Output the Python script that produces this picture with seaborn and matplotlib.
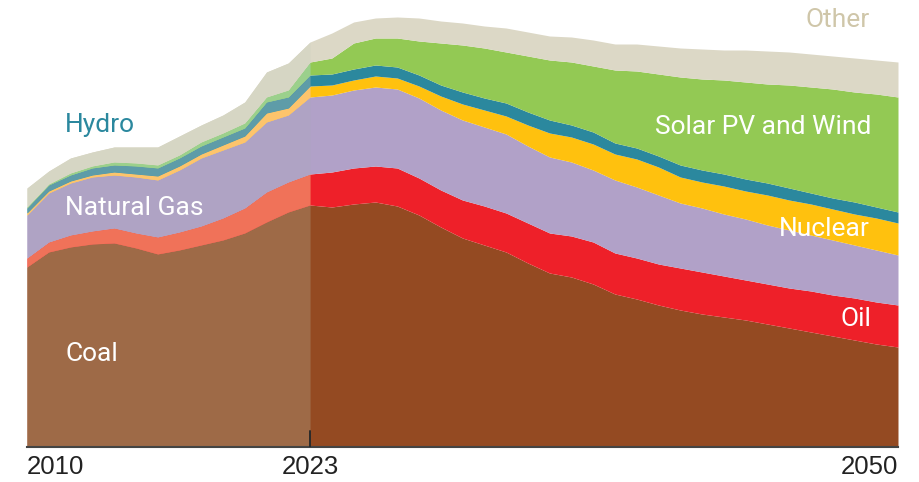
import numpy as np
import pandas as pd
import seaborn as sns
import matplotlib
matplotlib.use("Agg")
import matplotlib.pyplot as plt

# energy mix (arbitrary units, stacked bottom -> top)
years = list(range(2010, 2051))
coal = [180, 195, 200, 203, 204, 199, 193, 197, 202, 207, 214, 225, 235, 242,
        240, 243, 245, 241, 232, 220, 209, 202, 195, 184, 174, 170, 163, 153,
        148, 142, 137, 133, 130, 127, 123, 119, 115, 111, 107, 103, 100]
oil = [9, 10, 12, 13, 15, 15, 17, 18, 19, 22, 25, 30, 30, 31,
       35, 36, 36, 38, 37, 37, 38, 39, 39, 40, 40, 41, 42, 41,
       41, 41, 42, 42, 41, 40, 40, 40, 41, 41, 42, 42, 42]
gas = [43, 49, 52, 54, 53, 56, 57, 62, 68, 68, 66, 70, 67, 77,
       77, 78, 79, 79, 80, 80, 80, 79, 79, 77, 76, 74, 72, 73,
       71, 69, 65, 64, 62, 61, 59, 58, 56, 55, 53, 52, 50]
nuclear = [2, 2, 2, 2, 3, 3, 4, 4, 4, 5, 6, 9, 7, 11,
           10, 10, 11, 11, 12, 14, 16, 17, 18, 21, 24, 25, 26, 26,
           28, 28, 26, 26, 28, 28, 30, 30, 31, 31, 31, 32, 32]
hydro = [5, 6, 6, 7, 7, 8, 8, 8, 8, 8, 8, 11, 11, 11,
         11, 11, 11, 11, 11, 11, 12, 12, 13, 13, 13, 12, 12, 11,
         11, 11, 12, 12, 12, 12, 12, 12, 11, 11, 12, 11, 11]
solar_wind = [1, 1, 2, 2, 3, 3, 3, 3, 4, 4, 5, 5, 7, 13,
              16, 26, 27, 29, 34, 42, 47, 50, 51, 56, 60, 63, 66, 73,
              77, 82, 88, 91, 94, 97, 99, 103, 106, 109, 110, 113, 115]
other = [19, 13, 15, 14, 15, 16, 18, 19, 17, 18, 21, 25, 27, 20,
         25, 21, 20, 21, 23, 22, 22, 22, 24, 24, 24, 25, 26, 26,
         27, 28, 29, 30, 30, 32, 33, 33, 33, 33, 34, 34, 35]

fuels = ["Coal", "Oil", "Natural Gas", "Nuclear", "Hydro", "Solar PV and Wind", "Other"]
split_year = 2023
tick_years = [2010, 2023, 2050]

colors_proj = ["#944A22", "#EE2029", "#B1A1C8", "#FFC10E", "#2B889E", "#93C954", "#DCD8C6"]
colors_hist = ["#9E6A47", "#F07259", "#AFA3C4", "#FDC46C", "#5E9CA8", "#9BD08C", "#D6D6C4"]

df = pd.DataFrame({"year": years, "Coal": coal, "Oil": oil, "Natural Gas": gas,
                   "Nuclear": nuclear, "Hydro": hydro,
                   "Solar PV and Wind": solar_wind, "Other": other})
hist = df[df.year <= split_year]

sns.set_theme(style="white")
plt.rcParams["font.family"] = ["Roboto", "DejaVu Sans"]

fig = plt.figure(figsize=(9.2, 4.82), dpi=100)
ax = fig.add_axes([27 / 920, 35 / 482, 871 / 920, 447 / 482])

# full stack in projection colours, then the historical years drawn over it
ax.stackplot(df.year, *[df[f] for f in fuels], colors=colors_proj, linewidth=0)
ax.stackplot(hist.year, *[hist[f] for f in fuels], colors=colors_hist, linewidth=0)

ax.set_xlim(2010, 2050)
ax.set_ylim(0, 447)
ax.set_yticks([])
ax.set_xticks(tick_years)
ax.set_xticklabels([str(y) for y in tick_years], fontsize=18.5,
                   family=["Liberation Sans", "DejaVu Sans"], color="#222222")
for lab, ha in zip(ax.get_xticklabels(), ["left", "center", "right"]):
    lab.set_horizontalalignment(ha)
ax.tick_params(axis="x", length=0, pad=6)

# small marker at the start of the projection
ax.axvline(split_year, ymin=0, ymax=16 / 447, color="#2a2a2a", lw=1.4, zorder=6)

sns.despine(ax=ax, left=True, top=True, right=True)
ax.spines["bottom"].set_color("#444444")
ax.spines["bottom"].set_linewidth(1.5)
ax.spines["bottom"].set_zorder(5)

fs = 19
ax.text(2011.75, 93, "Coal", color="white", fontsize=fs, va="center", ha="left")
ax.text(2011.75, 239, "Natural Gas", color="white", fontsize=fs, va="center", ha="left")
ax.text(2011.75, 322, "Hydro", color="#2B889E", fontsize=fs, va="center", ha="left")
ax.text(2048.7, 427, "Other", color="#CFC6A9", fontsize=fs, va="center", ha="right")
ax.text(2048.8, 320, "Solar PV and Wind", color="white", fontsize=fs, va="center", ha="right")
ax.text(2048.7, 218, "Nuclear", color="white", fontsize=fs, va="center", ha="right")
ax.text(2048.8, 128, "Oil", color="white", fontsize=fs, va="center", ha="right")

fig.savefig("out.png", dpi=100)
